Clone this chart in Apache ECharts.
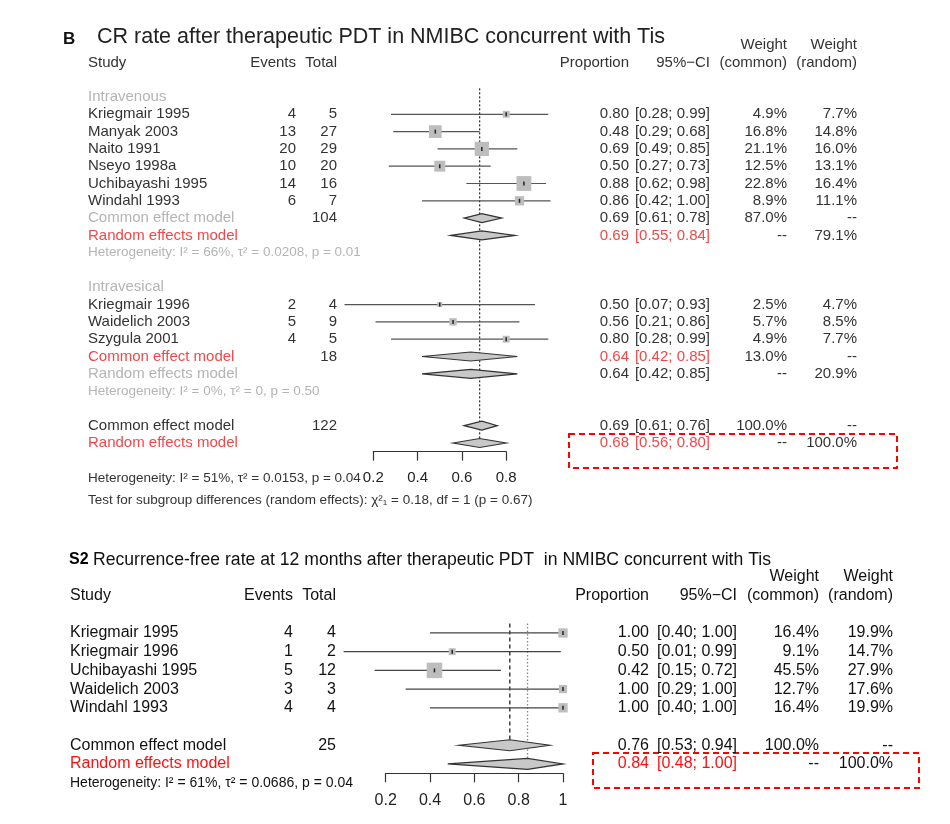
<!DOCTYPE html>
<html>
<head>
<meta charset="utf-8">
<style>
  html, body { margin: 0; padding: 0; background: #fff; }
  #chart { width: 950px; height: 824px; }
</style>
<script src="https://cdn.jsdelivr.net/npm/echarts@6/dist/echarts.min.js"></script>
</head>
<body>
<div id="chart"></div>
<script>
// ---- panel B: CR rate, intravenous subgroup ----
const ivStudies = ['Kriegmair 1995', 'Manyak 2003', 'Naito 1991', 'Nseyo 1998a', 'Uchibayashi 1995', 'Windahl 1993'];
const ivEvents = [4, 13, 20, 10, 14, 6];
const ivTotal = [5, 27, 29, 20, 16, 7];
const ivProp = [0.80, 0.48, 0.69, 0.50, 0.88, 0.86];
const ivLower = [0.28, 0.29, 0.49, 0.27, 0.62, 0.42];
const ivUpper = [0.99, 0.68, 0.85, 0.73, 0.98, 1.00];
const ivWCommon = [4.9, 16.8, 21.1, 12.5, 22.8, 8.9];
const ivWRandom = [7.7, 14.8, 16.0, 13.1, 16.4, 11.1];
const ivCommon = [0.69, 0.61, 0.78];   // est, lower, upper
const ivRandom = [0.69, 0.55, 0.84];
const ivWeights = [87.0, 79.1];        // common, random
const ivN = 104;
const ivHet = 'Heterogeneity: I² = 66%, τ² = 0.0208, p = 0.01';

// ---- panel B: intravesical subgroup ----
const vesStudies = ['Kriegmair 1996', 'Waidelich 2003', 'Szygula 2001'];
const vesEvents = [2, 5, 4];
const vesTotal = [4, 9, 5];
const vesProp = [0.50, 0.56, 0.80];
const vesLower = [0.07, 0.21, 0.28];
const vesUpper = [0.93, 0.86, 0.99];
const vesWCommon = [2.5, 5.7, 4.9];
const vesWRandom = [4.7, 8.5, 7.7];
const vesCommon = [0.64, 0.42, 0.85];
const vesRandom = [0.64, 0.42, 0.85];
const vesWeights = [13.0, 20.9];
const vesN = 18;
const vesHet = 'Heterogeneity: I² = 0%, τ² = 0, p = 0.50';

// ---- panel B: overall ----
const allCommon = [0.69, 0.61, 0.76];
const allRandom = [0.68, 0.56, 0.80];
const allN = 122;
const allHet = 'Heterogeneity: I² = 51%, τ² = 0.0153, p = 0.04';
const allTest = 'Test for subgroup differences (random effects): χ²₁ = 0.18, df = 1 (p = 0.67)';
const topTicks = ['0.2', '0.4', '0.6', '0.8'];

// ---- panel S2: recurrence-free rate at 12 months ----
const s2Studies = ['Kriegmair 1995', 'Kriegmair 1996', 'Uchibayashi 1995', 'Waidelich 2003', 'Windahl 1993'];
const s2Events = [4, 1, 5, 3, 4];
const s2Total = [4, 2, 12, 3, 4];
const s2Prop = [1.00, 0.50, 0.42, 1.00, 1.00];
const s2Lower = [0.40, 0.01, 0.15, 0.29, 0.40];
const s2Upper = [1.00, 0.99, 0.72, 1.00, 1.00];
const s2WCommon = [16.4, 9.1, 45.5, 12.7, 16.4];
const s2WRandom = [19.9, 14.7, 27.9, 17.6, 19.9];
const s2Common = [0.76, 0.53, 0.94];
const s2Random = [0.84, 0.48, 1.00];
const s2N = 25;
const s2Het = 'Heterogeneity: I² = 61%, τ² = 0.0686, p = 0.04';
const botTicks = ['0.2', '0.4', '0.6', '0.8', '1'];

const FF = '"Liberation Sans", Arial, Helvetica, sans-serif';
const RED_TOP = '#f04848', RED_BOT = '#ff1010', GREY = '#b4b4b4';

const topCfg = {
  font: '15px ' + FF, hetFont: '13.5px ' + FF, dark: '#333',
  cLabel: 88, cEvents: 296, cTotal: 337, cProp: 629, cCI: 710, cWC: 787, cWR: 857,
  sq: 3.1, dh: 4.5, ci: '#555'
};
const botCfg = {
  font: '16px ' + FF, hetFont: '14px ' + FF, dark: '#111',
  cLabel: 70, cEvents: 293, cTotal: 336, cProp: 649, cCI: 737, cWC: 819, cWR: 893,
  sq: 2.3, dh: 5.5, ci: '#444'
};

function studyRows(start, names, ev, tot, est, lo, hi, wc, wr) {
  return names.map((n, i) => ({
    pos: start + i, kind: 'study', label: n, events: ev[i], total: tot[i],
    est: est[i], lo: lo[i], hi: hi[i], wc: wc[i], wr: wr[i]
  }));
}
function summaryRow(pos, label, color, total, ci, wc, wr) {
  return { pos, kind: 'summary', label, color, total, est: ci[0], lo: ci[1], hi: ci[2], wc, wr };
}

const topRows = [
  { pos: -3, kind: 'header2' },
  { pos: -2, kind: 'header' },
  { pos: 0, kind: 'text', label: 'Intravenous', color: GREY },
  ...studyRows(1, ivStudies, ivEvents, ivTotal, ivProp, ivLower, ivUpper, ivWCommon, ivWRandom),
  summaryRow(7, 'Common effect model', GREY, ivN, ivCommon, ivWeights[0], null),
  summaryRow(8, 'Random effects model', RED_TOP, null, ivRandom, null, ivWeights[1]),
  { pos: 9, kind: 'het', label: ivHet, color: GREY },
  { pos: 11, kind: 'text', label: 'Intravesical', color: GREY },
  ...studyRows(12, vesStudies, vesEvents, vesTotal, vesProp, vesLower, vesUpper, vesWCommon, vesWRandom),
  summaryRow(15, 'Common effect model', RED_TOP, vesN, vesCommon, vesWeights[0], null),
  summaryRow(16, 'Random effects model', GREY, null, vesRandom, null, vesWeights[1]),
  { pos: 17, kind: 'het', label: vesHet, color: GREY },
  summaryRow(19, 'Common effect model', null, allN, allCommon, 100.0, null),
  summaryRow(20, 'Random effects model', RED_TOP, null, allRandom, null, 100.0),
  { pos: 22.05, kind: 'het', label: allHet, color: null },
  { pos: 23.3, kind: 'het', label: allTest, color: null }
];

const botRows = [
  { pos: -3, kind: 'header2' },
  { pos: -2, kind: 'header' },
  ...studyRows(0, s2Studies, s2Events, s2Total, s2Prop, s2Lower, s2Upper, s2WCommon, s2WRandom),
  summaryRow(6, 'Common effect model', null, s2N, s2Common, 100.0, null),
  summaryRow(7, 'Random effects model', RED_BOT, null, s2Random, null, 100.0),
  { pos: 8, kind: 'het', label: s2Het, color: null }
];

const fmt = v => v.toFixed(2);
const fmtCI = (a, b) => '[' + fmt(a) + '; ' + fmt(b) + ']';
const fmtW = w => (w == null ? '--' : w.toFixed(1) + '%');

function makeRender(rows, cfg) {
  return function (params, api) {
    const r = rows[params.dataIndex];
    const y = api.coord([0.5, r.pos])[1];
    const X = v => api.coord([v, r.pos])[0];
    const kids = [];
    const txt = (s, x, align, color, font) => kids.push({
      type: 'text', x: x, y: y, silent: true,
      style: {
        text: String(s), fill: color || cfg.dark, font: font || cfg.font,
        align: align, verticalAlign: 'middle', textAlign: align, textVerticalAlign: 'middle'
      }
    });
    if (r.kind === 'header2') {
      txt('Weight', cfg.cWC, 'right');
      txt('Weight', cfg.cWR, 'right');
    } else if (r.kind === 'header') {
      txt('Study', cfg.cLabel, 'left');
      txt('Events', cfg.cEvents, 'right');
      txt('Total', cfg.cTotal, 'right');
      txt('Proportion', cfg.cProp, 'right');
      txt('95%\u2212CI', cfg.cCI, 'right');
      txt('(common)', cfg.cWC, 'right');
      txt('(random)', cfg.cWR, 'right');
    } else if (r.kind === 'text') {
      txt(r.label, cfg.cLabel, 'left', r.color);
    } else if (r.kind === 'het') {
      txt(r.label, cfg.cLabel, 'left', r.color, cfg.hetFont);
    } else if (r.kind === 'study') {
      txt(r.label, cfg.cLabel, 'left');
      txt(r.events, cfg.cEvents, 'right');
      txt(r.total, cfg.cTotal, 'right');
      kids.push({ type: 'line', shape: { x1: X(r.lo), y1: y, x2: X(r.hi), y2: y },
        style: { stroke: cfg.ci, lineWidth: 1.2 } });
      const s = cfg.sq * Math.sqrt(r.wc);
      kids.push({ type: 'rect', shape: { x: X(r.est) - s / 2, y: y - s / 2, width: s, height: s },
        style: { fill: '#bdbdbd' } });
      kids.push({ type: 'line', shape: { x1: X(r.est), y1: y - 2, x2: X(r.est), y2: y + 2 },
        style: { stroke: '#222', lineWidth: 1.5 } });
      txt(fmt(r.est), cfg.cProp, 'right');
      txt(fmtCI(r.lo, r.hi), cfg.cCI, 'right');
      txt(fmtW(r.wc), cfg.cWC, 'right');
      txt(fmtW(r.wr), cfg.cWR, 'right');
    } else if (r.kind === 'summary') {
      txt(r.label, cfg.cLabel, 'left', r.color);
      if (r.total != null) txt(r.total, cfg.cTotal, 'right');
      const h = cfg.dh;
      kids.push({ type: 'polygon',
        shape: { points: [[X(r.lo), y], [X(r.est), y - h], [X(r.hi), y], [X(r.est), y + h]] },
        style: { fill: '#c8c8c8', stroke: '#333', lineWidth: 1.2 } });
      const c = r.color === GREY ? null : r.color;
      txt(fmt(r.est), cfg.cProp, 'right', c);
      txt(fmtCI(r.lo, r.hi), cfg.cCI, 'right', c);
      txt(fmtW(r.wc), cfg.cWC, 'right');
      txt(fmtW(r.wr), cfg.cWR, 'right');
    }
    return { type: 'group', children: kids };
  };
}

// reference lines: [value, fromRow, toRow, dash, color]
const topRefs = [[allRandom[0], -0.5, 20 - 0.26, [2, 2], '#333']];
const botRefs = [
  [s2Common[0], -0.5, 6 - 0.3, [4, 3], '#222'],
  [s2Random[0], -0.5, 7 - 0.3, [1.5, 2], '#888']
];
function refRender(refs) {
  return function (params, api) {
    const r = refs[params.dataIndex];
    const a = api.coord([r[0], r[1]]), b = api.coord([r[0], r[2]]);
    return { type: 'line', shape: { x1: a[0], y1: a[1], x2: b[0], y2: b[1] },
      style: { stroke: r[4], lineWidth: 1.3, lineDash: r[3] } };
  };
}

function xAxisOf(grid, min, max, ticks, font) {
  return {
    gridIndex: grid, type: 'value', min: min, max: max, interval: 0.2,
    axisLine: { show: true, onZero: false, lineStyle: { color: '#333', width: 1.2 } },
    axisTick: { show: true, length: 9, lineStyle: { color: '#333', width: 1.2 } },
    splitLine: { show: false },
    axisLabel: {
      fontSize: font, color: '#222', fontFamily: FF, margin: 19,
      showMinLabel: true, showMaxLabel: true,
      formatter: v => ticks[Math.round((v - min) / 0.2)] || ''
    }
  };
}
function yAxisOf(grid, max) {
  return { gridIndex: grid, type: 'value', min: -0.5, max: max, inverse: true, show: false };
}

const chart = echarts.init(document.getElementById('chart'));
chart.setOption({
  animation: false,
  backgroundColor: '#fff',
  grid: [
    { left: 373.3, top: 88.35, width: 132.9, height: 363.3 },
    { left: 385.7, top: 623.6, width: 177.3, height: 149.7 }
  ],
  xAxis: [xAxisOf(0, 0.2, 0.8, topTicks, 15), xAxisOf(1, 0.2, 1.0, botTicks, 16)],
  yAxis: [yAxisOf(0, 20.5), yAxisOf(1, 7.5)],
  series: [
    { type: 'custom', xAxisIndex: 0, yAxisIndex: 0, clip: false, encode: { x: 0, y: 1 },
      data: topRefs.map(r => [r[0], r[1]]), renderItem: refRender(topRefs) },
    { type: 'custom', xAxisIndex: 0, yAxisIndex: 0, clip: false, encode: { x: 0, y: 1 },
      data: topRows.map(r => [0.5, r.pos]), renderItem: makeRender(topRows, topCfg) },
    { type: 'custom', xAxisIndex: 1, yAxisIndex: 1, clip: false, encode: { x: 0, y: 1 },
      data: botRefs.map(r => [r[0], r[1]]), renderItem: refRender(botRefs) },
    { type: 'custom', xAxisIndex: 1, yAxisIndex: 1, clip: false, encode: { x: 0, y: 1 },
      data: botRows.map(r => [0.5, r.pos]), renderItem: makeRender(botRows, botCfg) }
  ],
  graphic: [
    { type: 'text', left: 63, top: 31, style: { text: 'B', font: 'bold 17px ' + FF, fill: '#111' } },
    { type: 'text', left: 97, top: 26, style: { text: 'CR rate after therapeutic PDT in NMIBC concurrent with Tis', font: '21.5px ' + FF, fill: '#222' } },
    { type: 'text', left: 69, top: 552, style: { text: 'S2', font: 'bold 16px ' + FF, fill: '#000' } },
    { type: 'text', left: 93, top: 551, style: { text: 'Recurrence-free rate at 12 months after therapeutic PDT  in NMIBC concurrent with Tis', font: '17.6px ' + FF, fill: '#111' } },
    { type: 'rect', shape: { x: 569, y: 434, width: 328, height: 34 },
      style: { fill: 'none', stroke: '#ff0000', lineWidth: 2, lineDash: [6, 4] } },
    { type: 'rect', shape: { x: 593, y: 753, width: 326, height: 35 },
      style: { fill: 'none', stroke: '#ff0000', lineWidth: 2, lineDash: [6, 4] } }
  ]
});
</script>
</body>
</html>
